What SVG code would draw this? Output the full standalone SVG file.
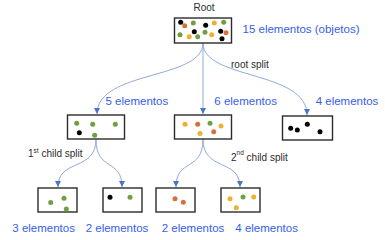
<svg xmlns="http://www.w3.org/2000/svg" width="385" height="240" viewBox="0 0 385 240">
  <style>
    .box { fill: #ffffff; stroke: #2b2b2b; stroke-width: 1.4; }
    .g { fill: #6f9f3f; }
    .o { fill: #d8703a; }
    .y { fill: #efb02e; }
    .k { fill: #000000; }
    .lbl { font-family: "Liberation Sans", Arial, sans-serif; font-size: 11.5px; fill: #3560ea; }
    .note { font-family: "Liberation Sans", Arial, sans-serif; font-size: 10px; fill: #2a2a2a; }
    .sup { font-size: 6.5px; }
    .edge { fill: none; stroke: #8eaadc; stroke-width: 1; marker-end: url(#arrow); }
  </style>
  <defs>
    <marker id="arrow" markerUnits="userSpaceOnUse" markerWidth="7" markerHeight="7" refX="6" refY="3.5" orient="auto">
      <path d="M0,0.5 L6,3.5 L0,6.5 z" fill="#4a74c6"/>
    </marker>
  </defs>
  <rect width="385" height="240" fill="#ffffff"/>

  <!-- connectors -->
  <g id="connectors">
    <path class="edge" d="M203,43 C203,80 97,70 97,114"/>
    <path class="edge" d="M203,43 L203,114"/>
    <path class="edge" d="M203,43 C203,80 307,70 307,115"/>
    <path class="edge" d="M96,139 C96,172 58,158 58,187"/>
    <path class="edge" d="M96,139 C96,172 122,158 122,187"/>
    <path class="edge" d="M203,139 C203,172 176,158 176,187"/>
    <path class="edge" d="M203,139 C203,172 240,158 240,187"/>
  </g>

  <!-- split annotations -->
  <text class="note" x="231" y="68">root split</text>
  <text class="note" x="28" y="157">1<tspan class="sup" dy="-4">st</tspan><tspan dy="4"> child split</tspan></text>
  <text class="note" x="231" y="161">2<tspan class="sup" dy="-6">nd</tspan><tspan dy="6"> child split</tspan></text>

  <!-- root node: 15 objects -->
  <g id="root">
    <text class="note" x="204" y="11" text-anchor="middle">Root</text>
    <rect class="box" x="174.5" y="18" width="57" height="25"/>
    <circle class="k" cx="180.7" cy="22.3" r="2.5"/>
    <circle class="o" cx="184.7" cy="25.7" r="2.5"/>
    <circle class="g" cx="193.3" cy="23" r="2.5"/>
    <circle class="k" cx="205.7" cy="25.3" r="2.5"/>
    <circle class="y" cx="214.3" cy="23" r="2.5"/>
    <circle class="g" cx="223.7" cy="22.3" r="2.5"/>
    <circle class="k" cx="194.3" cy="31.7" r="2.5"/>
    <circle class="g" cx="180" cy="34.7" r="2.5"/>
    <circle class="y" cx="189.3" cy="36.7" r="2.5"/>
    <circle class="g" cx="197.7" cy="36.7" r="2.5"/>
    <circle class="g" cx="205" cy="32.3" r="2.5"/>
    <circle class="y" cx="211.7" cy="34.7" r="2.5"/>
    <circle class="k" cx="220.7" cy="31.3" r="2.5"/>
    <circle class="o" cx="226" cy="32.7" r="2.5"/>
    <circle class="k" cx="222" cy="38.7" r="2.5"/>
    <text class="lbl" x="242.5" y="32.5">15 elementos (objetos)</text>
  </g>

  <!-- first level children -->
  <g id="child5">
    <text class="lbl" x="105.5" y="105">5 elementos</text>
    <rect class="box" x="67.5" y="115" width="57" height="24"/>
    <circle class="g" cx="76.7" cy="123.3" r="2.5"/>
    <circle class="g" cx="92.7" cy="124.3" r="2.5"/>
    <circle class="g" cx="115.3" cy="124.3" r="2.5"/>
    <circle class="k" cx="79.3" cy="132.7" r="2.5"/>
    <circle class="g" cx="94.7" cy="135.3" r="2.5"/>
  </g>
  <g id="child6">
    <text class="lbl" x="214.3" y="105">6 elementos</text>
    <rect class="box" x="174.5" y="115" width="57" height="24"/>
    <circle class="y" cx="185" cy="124.3" r="2.5"/>
    <circle class="o" cx="197.7" cy="124.3" r="2.5"/>
    <circle class="g" cx="210" cy="123.3" r="2.5"/>
    <circle class="y" cx="221" cy="126" r="2.5"/>
    <circle class="y" cx="200" cy="133.5" r="2.5"/>
    <circle class="o" cx="213.7" cy="131.7" r="2.5"/>
  </g>
  <g id="child4">
    <text class="lbl" x="315.7" y="105">4 elementos</text>
    <rect class="box" x="282.5" y="116" width="50" height="24"/>
    <circle class="k" cx="290.7" cy="128.3" r="2.5"/>
    <circle class="k" cx="297.3" cy="130" r="2.5"/>
    <circle class="k" cx="307.3" cy="124.3" r="2.5"/>
    <circle class="k" cx="320" cy="131.7" r="2.5"/>
  </g>

  <!-- second level children -->
  <g id="leafA">
    <rect class="box" x="38" y="188" width="39" height="24"/>
    <circle class="g" cx="50.7" cy="202.5" r="2.5"/>
    <circle class="g" cx="64" cy="198.3" r="2.5"/>
    <circle class="g" cx="66.3" cy="209" r="2.5"/>
    <text class="lbl" x="12.3" y="231.5">3 elementos</text>
  </g>
  <g id="leafB">
    <rect class="box" x="103" y="188" width="39" height="24"/>
    <circle class="k" cx="110" cy="197.3" r="2.5"/>
    <circle class="g" cx="130" cy="197.3" r="2.5"/>
    <text class="lbl" x="85.7" y="231.5">2 elementos</text>
  </g>
  <g id="leafC">
    <rect class="box" x="156" y="188" width="39" height="24"/>
    <circle class="o" cx="175" cy="198.7" r="2.5"/>
    <circle class="o" cx="183.3" cy="202.3" r="2.5"/>
    <text class="lbl" x="161.7" y="231.5">2 elementos</text>
  </g>
  <g id="leafD">
    <rect class="box" x="221" y="188" width="39" height="24"/>
    <circle class="y" cx="230" cy="198.7" r="2.5"/>
    <circle class="g" cx="243" cy="197" r="2.5"/>
    <circle class="y" cx="253.7" cy="197" r="2.5"/>
    <circle class="y" cx="236.3" cy="207.7" r="2.5"/>
    <text class="lbl" x="235.3" y="231.5">4 elementos</text>
  </g>
</svg>
